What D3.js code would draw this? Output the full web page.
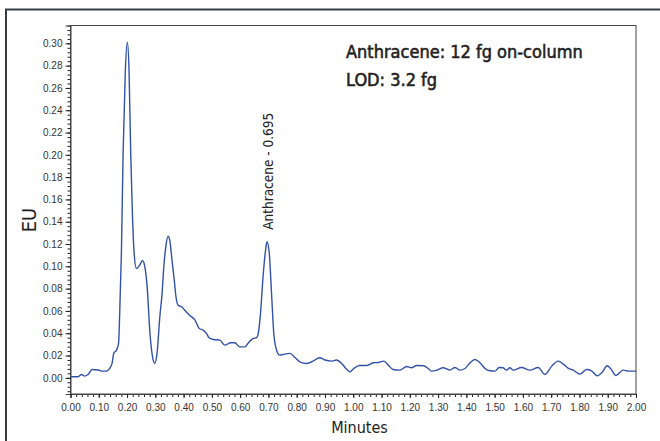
<!DOCTYPE html>
<html><head><meta charset="utf-8">
<script src="https://cdn.jsdelivr.net/npm/d3@7"></script>
<style>
html,body{margin:0;padding:0;background:#fff;}
svg{display:block;font-family:"DejaVu Sans Condensed","DejaVu Sans",sans-serif;font-stretch:condensed;}
</style></head>
<body>
<svg id="c" width="660" height="441"></svg>
<script>
const times = [0.000,0.027,0.039,0.050,0.062,0.077,0.098,0.115,0.127,0.137,0.147,0.153,0.163,0.170,0.174,0.180,0.186,0.194,0.201,0.207,0.213,0.219,0.225,0.233,0.242,0.255,0.263,0.271,0.281,0.290,0.298,0.306,0.316,0.324,0.330,0.337,0.345,0.351,0.359,0.367,0.373,0.381,0.393,0.404,0.422,0.440,0.455,0.469,0.481,0.490,0.505,0.528,0.546,0.566,0.581,0.599,0.617,0.628,0.646,0.658,0.664,0.672,0.681,0.690,0.695,0.703,0.711,0.719,0.729,0.740,0.758,0.776,0.794,0.811,0.835,0.853,0.882,0.900,0.923,0.941,0.959,0.974,0.988,1.002,1.023,1.047,1.071,1.088,1.108,1.124,1.141,1.165,1.189,1.206,1.224,1.248,1.265,1.277,1.295,1.318,1.342,1.360,1.377,1.395,1.413,1.430,1.448,1.466,1.483,1.501,1.516,1.530,1.542,1.554,1.566,1.595,1.625,1.654,1.678,1.702,1.725,1.743,1.761,1.778,1.802,1.825,1.843,1.863,1.879,1.898,1.910,1.929,1.955,1.973,2.000];
const euValues = [0.001,0.001,0.003,0.0015,0.003,0.0075,0.007,0.006,0.006,0.008,0.013,0.022,0.025,0.031,0.058,0.112,0.201,0.276,0.301,0.276,0.201,0.147,0.112,0.098,0.100,0.105,0.0996,0.082,0.040,0.019,0.013,0.022,0.055,0.076,0.0996,0.1175,0.127,0.1235,0.1056,0.0877,0.0727,0.065,0.0637,0.0607,0.056,0.052,0.0443,0.0428,0.0398,0.0359,0.0344,0.0338,0.0293,0.0314,0.0314,0.0278,0.0278,0.031,0.0353,0.036,0.0398,0.0578,0.0906,0.1146,0.122,0.1116,0.0757,0.0398,0.0248,0.0204,0.0213,0.0219,0.0183,0.0144,0.0129,0.0144,0.018,0.016,0.015,0.016,0.0129,0.0084,0.0054,0.0084,0.011,0.011,0.0135,0.0138,0.015,0.0114,0.0075,0.0069,0.0102,0.009,0.011,0.0108,0.0084,0.006,0.0069,0.009,0.0069,0.0093,0.0069,0.0084,0.0135,0.0165,0.0135,0.0084,0.0063,0.006,0.0093,0.009,0.0069,0.009,0.0069,0.0093,0.0069,0.0093,0.003,0.0105,0.015,0.0123,0.0084,0.0069,0.0033,0.0075,0.0063,0.0018,0.0045,0.0108,0.0084,0.0021,0.0069,0.006,0.006];
const xTickLabels = ["0.00","0.10","0.20","0.30","0.40","0.50","0.60","0.70","0.80","0.90","1.00","1.10","1.20","1.30","1.40","1.50","1.60","1.70","1.80","1.90","2.00"];
const yTickLabels = ["0.00","0.02","0.04","0.06","0.08","0.10","0.12","0.14","0.16","0.18","0.20","0.22","0.24","0.26","0.28","0.30"];
const titleLines = ["Anthracene: 12 fg on-column","LOD: 3.2 fg"];
const peakName = "Anthracene - 0.695";
const peakTime = 0.695, peakValue = 0.122;

const svg = d3.select("#c");
const L = 70.5, R = 636, T = 25.5, B = 394;
const x = d3.scaleLinear().domain([0, 2]).range([L, R]);
const y = d3.scaleLinear().domain([-0.0145, 0.316]).range([B, T]);

// outer frame
svg.append("rect").attr("x", 6).attr("y", 9.5).attr("width", 700).attr("height", 500)
  .attr("fill", "none").attr("stroke", "#363c46").attr("stroke-width", 2);

// plot frame
svg.append("rect").attr("x", L).attr("y", T).attr("width", R - L).attr("height", B - T)
  .attr("fill", "none").attr("stroke", "#444").attr("stroke-width", 1);

// minor ticks
const yMinor = d3.range(-12, 317, 4).map(v => v / 1000);
const yMaj = yTickLabels.map(Number);
const gyMinor = svg.append("g").attr("transform", `translate(${L},0)`)
  .call(d3.axisLeft(y).tickValues(yMinor).tickSize(3).tickFormat(""));
gyMinor.select(".domain").remove();
const gy = svg.append("g").attr("transform", `translate(${L},0)`)
  .call(d3.axisLeft(y).tickValues(yMaj).tickSize(5).tickPadding(3).tickFormat((d, i) => yTickLabels[i]));
gy.select(".domain").attr("stroke", "#444");
gy.selectAll("text").attr("font-size", 10).attr("fill", "#333");

const xMinor = d3.range(0, 201, 2).map(v => v / 100);
const gxMinor = svg.append("g").attr("transform", `translate(0,${B})`)
  .call(d3.axisBottom(x).tickValues(xMinor).tickSize(3).tickFormat(""));
gxMinor.select(".domain").remove();
const xMaj = xTickLabels.map(Number);
const gx = svg.append("g").attr("transform", `translate(0,${B})`)
  .call(d3.axisBottom(x).tickValues(xMaj).tickSize(4).tickPadding(6).tickFormat((d, i) => xTickLabels[i]));
gx.select(".domain").attr("stroke", "#444");
gx.selectAll("text").attr("font-size", 10).attr("fill", "#333");
svg.selectAll(".tick line").attr("stroke", "#222");

// trace
const data = times.map((t, i) => [t, euValues[i]]);
svg.append("path").datum(data)
  .attr("d", d3.line().x(d => x(d[0])).y(d => y(d[1])).curve(d3.curveMonotoneX))
  .attr("fill", "none").attr("stroke", "#3252a8").attr("stroke-width", 1.4).attr("stroke-linejoin", "round");

// peak label
svg.append("text")
  .attr("transform", `translate(${x(peakTime) + 6},${y(peakValue) - 12}) rotate(-90)`)
  .attr("font-size", 13.5).attr("fill", "#222").text(peakName);

// title text
svg.selectAll("text.title").data(titleLines).enter().append("text")
  .attr("class", "title").attr("x", 346).attr("y", (d, i) => 58 + i * 28)
  .attr("font-size", 18).attr("fill", "#222").attr("stroke", "#222").attr("stroke-width", 0.55)
  .text(d => d);

// axis titles
svg.append("text").attr("transform", "translate(36,220) rotate(-90)")
  .attr("text-anchor", "middle").attr("font-size", 20).attr("fill", "#222").text("EU");
svg.append("text").attr("x", 359.5).attr("y", 433)
  .attr("text-anchor", "middle").attr("font-size", 16).attr("fill", "#222").text("Minutes");
</script>
</body></html>
